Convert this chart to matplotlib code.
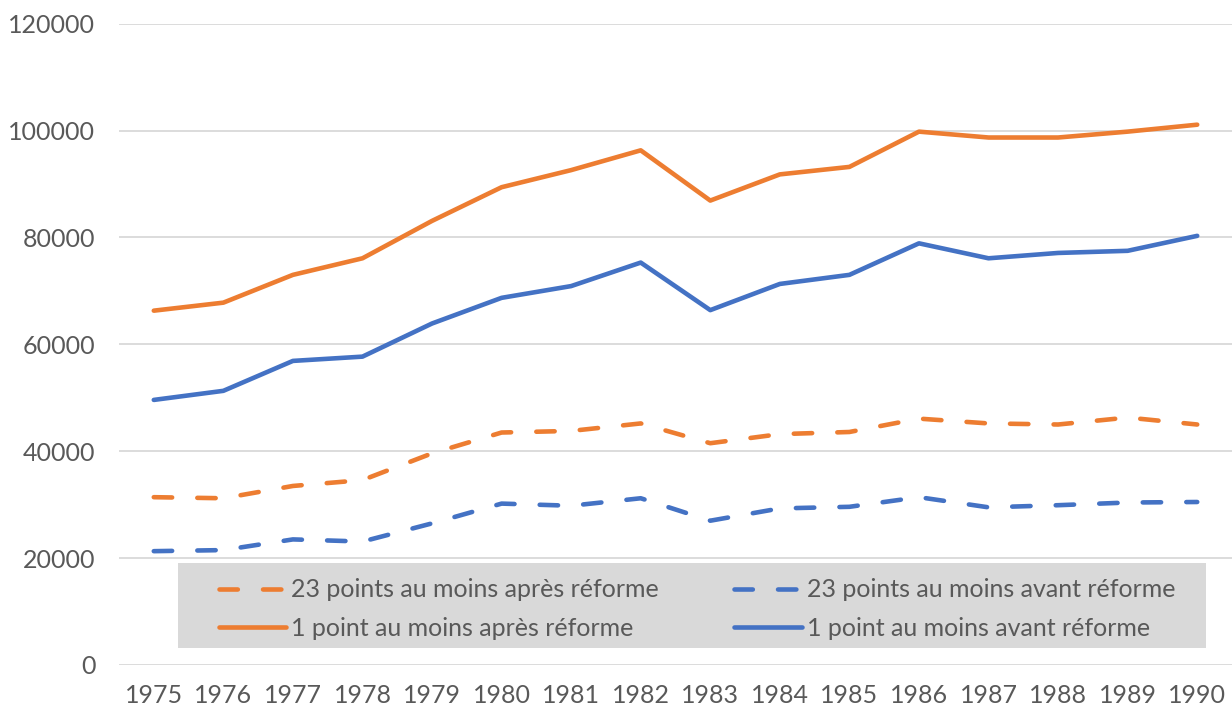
import matplotlib
matplotlib.use('agg')
import matplotlib.pyplot as plt
from matplotlib.patches import Rectangle

years = [str(y) for y in range(1975, 1991)]

apres_1pt = [66300, 67800, 73000, 76100, 83100, 89400, 92600, 96300,
             86900, 91800, 93200, 99800, 98700, 98700, 99800, 101100]
avant_1pt = [49600, 51300, 56900, 57700, 63900, 68700, 70900, 75300,
             66400, 71300, 73000, 78900, 76100, 77100, 77500, 80300]
apres_23pts = [31400, 31200, 33500, 34600, 39600, 43500, 43800, 45200,
               41500, 43200, 43600, 46100, 45200, 45000, 46300, 45000]
avant_23pts = [21300, 21500, 23500, 23100, 26500, 30200, 29800, 31200,
               27000, 29300, 29600, 31400, 29500, 29900, 30400, 30500]

orange = '#ED7D31'
blue = '#4472C4'
grey = '#595959'

plt.rcParams['font.family'] = ['Lato', 'DejaVu Sans']

fig = plt.figure(figsize=(12.32, 7.11), dpi=100)
ax = fig.add_axes([0.0966, 0.0647, 0.9034, 0.902])

x = range(len(years))
dash = (0, (4, 5.5))
l1, = ax.plot(x, apres_23pts, color=orange, lw=3.3, linestyle=dash, dash_capstyle='round',
              label='23 points au moins après réforme')
l2, = ax.plot(x, avant_23pts, color=blue, lw=3.3, linestyle=dash, dash_capstyle='round',
              label='23 points au moins avant réforme')
l3, = ax.plot(x, apres_1pt, color=orange, lw=3.3, solid_capstyle='round',
              label='1 point au moins après réforme')
l4, = ax.plot(x, avant_1pt, color=blue, lw=3.3, solid_capstyle='round',
              label='1 point au moins avant réforme')

ax.set_xlim(-0.5, len(years) - 0.5)
ax.set_ylim(0, 120000)
ax.set_yticks(range(0, 120001, 20000))
ax.set_xticks(list(x))
ax.set_xticklabels(years)
ax.grid(axis='y', color='#d9d9d9', lw=1.3)
ax.set_axisbelow(True)
for s in ax.spines.values():
    s.set_visible(False)
ax.tick_params(length=0, colors=grey, labelsize=18)
ax.tick_params(axis='y', pad=17)
ax.tick_params(axis='x', pad=14)

# grey legend background
ax.add_patch(Rectangle((0.053, 0.0265), 0.9236, 0.1325, transform=ax.transAxes,
                       facecolor='#d9d9d9', edgecolor='none', zorder=3))

handles = [l1, l3, l2, l4]
leg = ax.legend(handles, [h.get_label() for h in handles], ncol=2, loc='center left',
                bbox_to_anchor=(0.0898, 0.0873), fontsize=18, frameon=False,
                handlelength=2.7, handletextpad=0.2, labelspacing=0.62,
                columnspacing=3.0, borderpad=0, borderaxespad=0)
leg.set_zorder(4)
for t in leg.get_texts():
    t.set_color(grey)

fig.savefig('out.png', dpi=100)
